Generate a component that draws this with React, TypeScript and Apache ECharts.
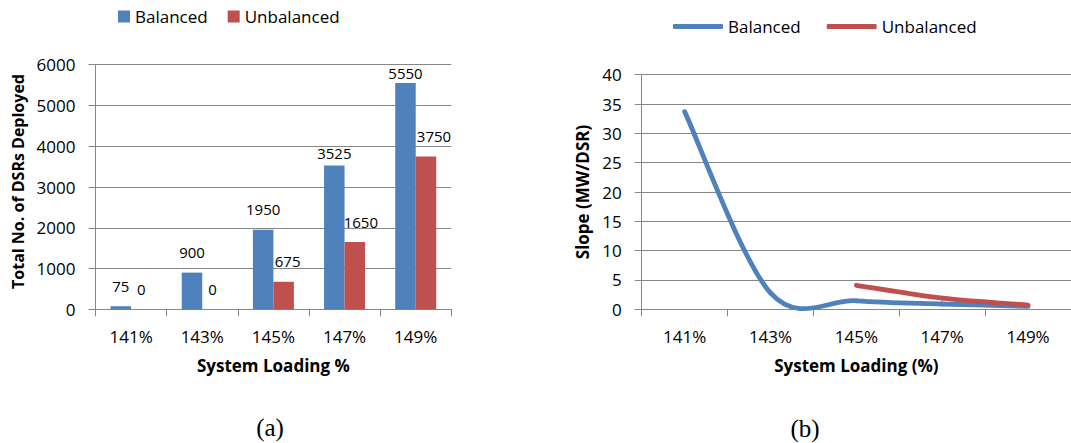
import React, { useEffect, useRef } from "react";
import * as echarts from "echarts";

const categories = ["141%", "143%", "145%", "147%", "149%"];
const dsrBalanced = [75, 900, 1950, 3525, 5550];
const dsrUnbalanced = [0, 0, 675, 1650, 3750];
const slopeBalanced: (number | null)[] = [33.7, 2.8, 1.45, 0.9, 0.5];
const slopeUnbalanced: (number | null)[] = [null, null, 4.1, 1.9, 0.73];

const BLUE = "#4F81BD";
const RED = "#C0504D";
const GRID = "#878787";
const FONT = "Open Sans";

// label nudges (layout only)
const balancedLabelOffset = [[0, 0], [0, 0], [0, 0], [0, 8], [0, 10.5]];
const unbalancedLabelOffset = [[0, 0], [0, 0], [4, 0], [6, 0], [8, 0]];

function barOption(): any {
  const labelBase = { show: true, position: "top", distance: 13, color: "#000", fontFamily: FONT, fontSize: 15 };
  return {
    animation: false,
    textStyle: { fontFamily: FONT },
    legend: {
      left: 118,
      top: 8,
      padding: 0,
      itemWidth: 12,
      itemHeight: 12,
      itemGap: 20,
      icon: "rect",
      textStyle: { fontFamily: FONT, fontSize: 17, color: "#000" },
      data: ["Balanced", "Unbalanced"],
    },
    grid: { left: 95.5, top: 64.7, width: 355.8, height: 244.6 },
    xAxis: {
      type: "category",
      data: categories,
      boundaryGap: true,
      axisLine: { show: true, lineStyle: { color: GRID, width: 1 } },
      axisTick: { show: true, length: 7, lineStyle: { color: GRID } },
      axisLabel: { margin: 19, color: "#000", fontFamily: FONT, fontSize: 17 },
      name: "System Loading %",
      nameLocation: "middle",
      nameGap: 48,
      nameTextStyle: { fontFamily: FONT, fontSize: 17, fontWeight: "bold", color: "#000" },
    },
    yAxis: {
      type: "value",
      min: 0,
      max: 6000,
      interval: 1000,
      axisLine: { show: true, lineStyle: { color: GRID, width: 1 } },
      axisTick: { show: true, length: 7, lineStyle: { color: GRID } },
      splitLine: { show: true, lineStyle: { color: GRID, width: 1 } },
      axisLabel: { margin: 20, color: "#000", fontFamily: FONT, fontSize: 17, formatter: (v: number) => String(v) },
      name: "Total No. of DSRs Deployed",
      nameLocation: "middle",
      nameGap: 69,
      nameTextStyle: { fontFamily: FONT, fontSize: 16, fontWeight: "bold", color: "#000", padding: [0, 0, 0, 11] },
    },
    series: [
      {
        name: "Balanced",
        type: "bar",
        barWidth: 20.5,
        barGap: "0%",
        itemStyle: { color: BLUE },
        label: labelBase,
        data: dsrBalanced.map((v, i) => ({ value: v, label: { offset: balancedLabelOffset[i] } })),
      },
      {
        name: "Unbalanced",
        type: "bar",
        barWidth: 20.5,
        barGap: "0%",
        itemStyle: { color: RED },
        label: labelBase,
        data: dsrUnbalanced.map((v, i) => ({ value: v, label: { offset: unbalancedLabelOffset[i] } })),
      },
    ],
    graphic: [
      {
        type: "text",
        x: 270,
        y: 427,
        style: { text: "(a)", fontFamily: "Liberation Serif", fontSize: 25, fill: "#000", align: "center", verticalAlign: "middle" },
      },
    ],
  };
}

// Excel-style smoothed line (Catmull-Rom bezier, tension 1/6) drawn via a custom series
function smoothSeries(name: string, values: (number | null)[], color: string): any {
  const pts = values
    .map((v, i) => (v == null ? null : [i, v]))
    .filter((p) => p !== null) as number[][];
  return {
    name,
    type: "custom",
    coordinateSystem: "cartesian2d",
    itemStyle: { color },
    encode: { x: 0, y: 1 },
    data: pts,
    renderItem: (params: any, api: any) => {
      const j = params.dataIndex;
      if (j >= pts.length - 1) return null;
      const c = pts.map((p) => api.coord(p));
      const p0 = c[Math.max(j - 1, 0)];
      const p1 = c[j];
      const p2 = c[j + 1];
      const p3 = c[Math.min(j + 2, c.length - 1)];
      return {
        type: "bezierCurve",
        shape: {
          x1: p1[0],
          y1: p1[1],
          x2: p2[0],
          y2: p2[1],
          cpx1: p1[0] + (p2[0] - p0[0]) / 6,
          cpy1: p1[1] + (p2[1] - p0[1]) / 6,
          cpx2: p2[0] - (p3[0] - p1[0]) / 6,
          cpy2: p2[1] - (p3[1] - p1[1]) / 6,
        },
        style: { stroke: color, lineWidth: 4.8, fill: null, lineCap: "round" },
      };
    },
  };
}

function lineOption(): any {
  return {
    animation: false,
    textStyle: { fontFamily: FONT },
    legend: {
      left: 133,
      top: 18,
      padding: 0,
      itemWidth: 50,
      itemHeight: 5,
      itemGap: 26,
      icon: "roundRect",
      textStyle: { fontFamily: FONT, fontSize: 17, color: "#000" },
      data: [
        { name: "Balanced", itemStyle: { color: BLUE } },
        { name: "Unbalanced", itemStyle: { color: RED } },
      ],
    },
    grid: { left: 101.7, top: 74.7, width: 436.5, height: 234.6 },
    xAxis: {
      type: "category",
      data: categories,
      boundaryGap: true,
      axisLine: { show: true, lineStyle: { color: GRID, width: 1 } },
      axisTick: { show: true, length: 7, lineStyle: { color: GRID } },
      axisLabel: { margin: 19, color: "#000", fontFamily: FONT, fontSize: 17 },
      name: "System Loading (%)",
      nameLocation: "middle",
      nameGap: 48,
      nameTextStyle: { fontFamily: FONT, fontSize: 17, fontWeight: "bold", color: "#000" },
    },
    yAxis: {
      type: "value",
      min: 0,
      max: 40,
      interval: 5,
      axisLine: { show: true, lineStyle: { color: GRID, width: 1 } },
      axisTick: { show: true, length: 7, lineStyle: { color: GRID } },
      splitLine: { show: true, lineStyle: { color: GRID, width: 1 } },
      axisLabel: { margin: 20, color: "#000", fontFamily: FONT, fontSize: 17 },
      name: "Slope (MW/DSR)",
      nameLocation: "middle",
      nameGap: 48,
      nameTextStyle: { fontFamily: FONT, fontSize: 17, fontWeight: "bold", color: "#000" },
    },
    series: [smoothSeries("Balanced", slopeBalanced, BLUE), smoothSeries("Unbalanced", slopeUnbalanced, RED)],
    graphic: [
      {
        type: "text",
        x: 265,
        y: 428,
        style: { text: "(b)", fontFamily: "Liberation Serif", fontSize: 25, fill: "#000", align: "center", verticalAlign: "middle" },
      },
    ],
  };
}

function ChartBox({ option, left, width }: { option: any; left: number; width: number }) {
  const ref = useRef<HTMLDivElement>(null);
  useEffect(() => {
    if (!ref.current) return;
    const chart = echarts.init(ref.current, undefined, { renderer: "svg" });
    chart.setOption(option);
    return () => chart.dispose();
  }, []);
  return <div ref={ref} style={{ position: "absolute", left, top: 0, width, height: 443, overflow: "hidden" }} />;
}

export default function App() {
  return (
    <div style={{ position: "absolute", left: 0, top: 0, width: 1071, height: 443, background: "#fff", overflow: "hidden" }}>
      <ChartBox option={barOption()} left={0} width={540} />
      <ChartBox option={lineOption()} left={540} width={531} />
    </div>
  );
}
